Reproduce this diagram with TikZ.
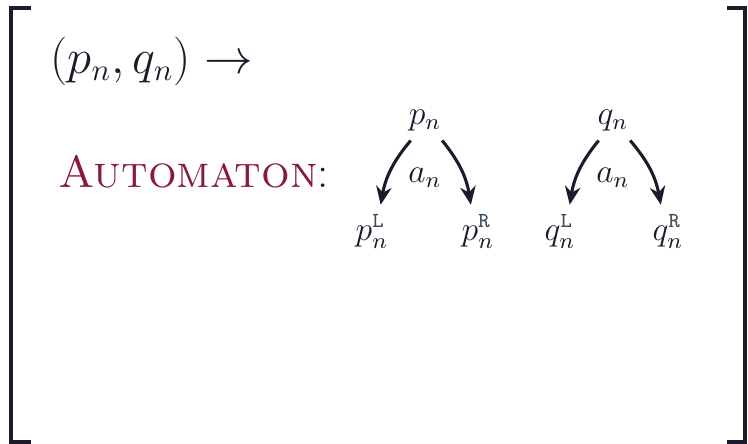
\documentclass[tikz,border=0pt]{standalone}
\usepackage{xcolor}
\definecolor{inkdark}{RGB}{27, 27, 43}
\definecolor{wine}{RGB}{138, 26, 60}
\definecolor{tagblue}{RGB}{59, 75, 91}
\usepackage{tikz}
\usetikzlibrary{arrows.meta}

\newcommand{\sidetag}[1]{\mbox{\fontsize{7.6}{9}\selectfont\ttfamily\color{tagblue}#1}}

\begin{document}
\begin{tikzpicture}[
  x=0.0125cm, y=-0.0125cm,
  lbl/.style={anchor=base, font=\fontsize{12}{14}\selectfont, text=inkdark},
  big/.style={anchor=base west, inner sep=0pt, font=\fontsize{16}{19}\selectfont},
  edge/.style={-{Stealth[length=6.5pt,width=5.5pt]}, line width=1.1pt, draw=inkdark},
  brk/.style={line width=1.1pt, draw=inkdark},
]
% Canvas
\fill[white] (0,0) rectangle (748,444);
\useasboundingbox (0,0) rectangle (748,444);

% Brackets
\draw[brk] (31,8) -- (11,8) -- (11,442) -- (31,442);
\draw[brk] (727,8) -- (745,8) -- (745,442) -- (727,442);

% Heading
\node[big, text=inkdark] (pair) at (50,73) {$(p_n, q_n) \rightarrow$};
\node[big, text=wine] (auto) at (58,187) {\textsc{Automaton}\textcolor{inkdark}{:}};

% Tree for p
\node[lbl] (pn) at (425,124) {$p_n$};
\node[lbl] (pL) at (372,240) {$p_n^{\sidetag{L}}$};
\node[lbl] (pR) at (478,240) {$p_n^{\sidetag{R}}$};
\node[lbl] (pa) at (425,182) {$a_n$};

% Tree for q
\node[lbl] (qn) at (613,124) {$q_n$};
\node[lbl] (qL) at (560,240) {$q_n^{\sidetag{L}}$};
\node[lbl] (qR) at (668,240) {$q_n^{\sidetag{R}}$};
\node[lbl] (qa) at (613,182) {$a_n$};

% Transitions
\draw[edge] (pn.235) to[bend right=15] (pL.72);
\draw[edge] (pn.310) to[bend left=15] (pR.105);
\draw[edge] (qn.235) to[bend right=15] (qL.70);
\draw[edge] (qn.310) to[bend left=15] (qR.105);
\end{tikzpicture}
\end{document}
